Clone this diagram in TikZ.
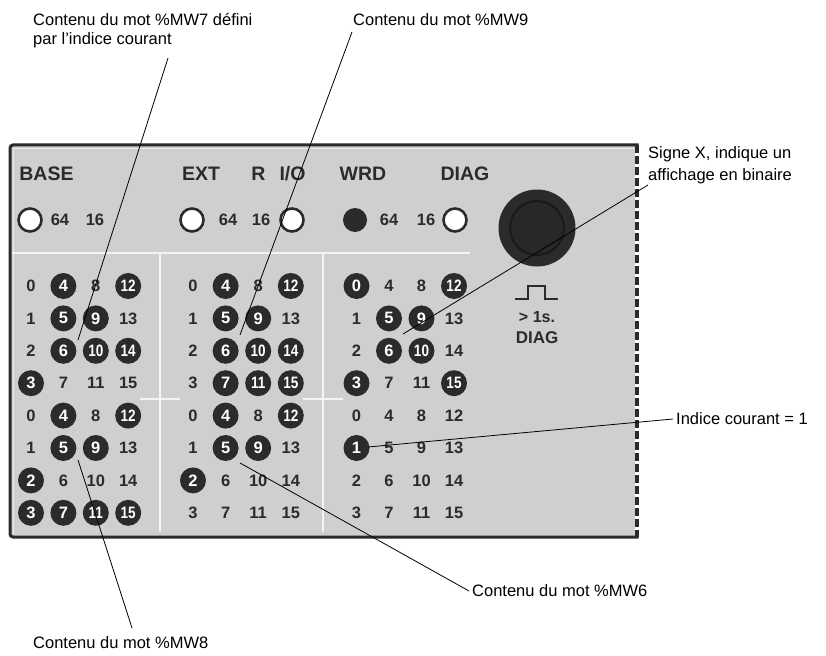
\documentclass[tikz,border=0pt]{standalone}
\usepackage{fontspec}
\setmainfont{Liberation Sans}
\usepackage{graphicx}
\definecolor{panel}{HTML}{CFCFCF}
\definecolor{ink}{HTML}{2B2B2B}
\definecolor{sepc}{HTML}{F4F4F4}
\tikzset{
  lbl/.style={font=\fontsize{16.5}{18}\selectfont, inner sep=0pt, anchor=base west},
  hdr/.style={font=\bfseries\fontsize{19.5}{19.5}\selectfont, inner sep=0pt, anchor=base, text=ink},
  dig/.style={font=\bfseries\fontsize{16.5}{16.5}\selectfont, inner sep=0pt, text=ink},
  onled/.style={circle, fill=ink, minimum size=26pt, inner sep=0pt, text=white,
    font=\bfseries\fontsize{16.5}{16.5}\selectfont},
  offled/.style={circle, draw=ink, line width=2.6pt, fill=white, minimum size=23pt, inner sep=0pt},
  leader/.style={draw=black, line width=0.8pt},
  sepline/.style={draw=sepc, line width=2.4pt}
}
\newcommand{\markon}[2]{\foreach \p in {#2}{\expandafter\gdef\csname on-#1-\p\endcsname{}}}
\markon{B}{0-1,0-3,1-1,1-2,2-1,2-2,2-3,3-0,4-1,4-3,5-1,5-2,6-0,7-0,7-1,7-2,7-3}
\markon{E}{0-1,0-3,1-1,1-2,2-1,2-2,2-3,3-1,3-2,3-3,4-1,4-3,5-1,5-2,6-0}
\markon{W}{0-0,0-3,1-1,1-2,2-1,2-2,3-0,3-3,5-0}
\begin{document}
\begin{tikzpicture}[x=1pt,y=-1pt]
\useasboundingbox (0,0) rectangle (826,655);
% panel
\fill[panel] (10,145) rectangle (637,537);
\draw[sepc!70!panel, line width=1.2pt] (13.5,534) -- (13.5,148.5) -- (634,148.5);
\draw[ink, line width=3pt, rounded corners=3pt, line cap=rect] (637,145) -- (10,145) -- (10,537) -- (637,537);
\draw[white, line width=3.5pt] (637,145) -- (637,537);
\draw[ink, line width=3.5pt, dash pattern=on 8pt off 3pt] (637,145) -- (637,537);
% separators
\draw[sepline] (12,253) -- (470,253);
\draw[sepline] (160,253) -- (160,532);
\draw[sepline] (323,253) -- (323,532);
\draw[sepline] (140,399) -- (180,399);
\draw[sepline] (303,399) -- (343,399);
% headers
\node[hdr] (hbase) at (46.5,180) {BASE};
\node[hdr] (hext) at (201,180) {EXT};
\node[hdr] (hr) at (258.5,180) {R};
\node[hdr] (hio) at (292.5,180) {I/O};
\node[hdr] (hwrd) at (363,180) {WRD};
\node[hdr] (hdiag) at (465,180) {DIAG};
% header LEDs
\node[offled] (bl1) at (30,220) {};
\node[dig] (b64) at (60,220) {64};
\node[dig] (b16) at (95,220) {16};
\node[offled] (el1) at (192,220) {};
\node[dig] (e64) at (228,220) {64};
\node[dig] (e16) at (261,220) {16};
\node[offled] (el2) at (292,220) {};
\node[circle, fill=ink, minimum size=24pt, inner sep=0pt] (wl1) at (355,220) {};
\node[dig] (w64) at (389,220) {64};
\node[dig] (w16) at (426,220) {16};
\node[offled] (wl2) at (455,220) {};
% button
\node[circle, fill=ink, minimum size=77pt, inner sep=0pt] (btn) at (537,228) {};
\node[circle, draw=black!90, line width=2pt, fill=ink!92!black, minimum size=54pt, inner sep=0pt] (btnin) at (btn) {};
\draw[ink, line width=2pt] (515,299) -- (528,299) -- (528,286) -- (545,286) -- (545,299) -- (558,299);
\node[dig, font=\bfseries\fontsize{16}{16}\selectfont] (gt) at (537,317) {> 1s.};
\node[dig, font=\bfseries\fontsize{17}{17}\selectfont] (bdiag) at (537,338) {DIAG};
% grids
\foreach \blk/\xo/\dx in {B/31/32.4, E/193/32.6, W/356.5/32.5}{
  \foreach \r in {0,...,7}{
    \foreach \c in {0,...,3}{
      \pgfmathtruncatemacro\v{4*\c+mod(\r,4)}
      \ifcsname on-\blk-\r-\c\endcsname
        \node[onled] (\blk-\r-\c) at ({\xo+\dx*\c},{286+32.4*\r})
          {\ifnum\v>9 \scalebox{0.82}[1]{\v}\else\v\fi};
      \else
        \node[dig] (\blk-\r-\c) at ({\xo+\dx*\c},{286+32.4*\r}) {\v};
      \fi
    }
  }
}
% labels
\node[lbl] (l7a) at (33,26) {Contenu du mot \%MW7 défini};
\node[lbl] (l7b) at (33,45) {par l’indice courant};
\node[lbl] (l9) at (353,26) {Contenu du mot \%MW9};
\node[lbl] (lxa) at (648,159) {Signe X, indique un};
\node[lbl] (lxb) at (648,180) {affichage en binaire};
\node[lbl] (li) at (676,424) {Indice courant = 1};
\node[lbl] (l6) at (472,596) {Contenu du mot \%MW6};
\node[lbl] (l8) at (33,648) {Contenu du mot \%MW8};
% leader ends
\coordinate (p7a) at (168,58);  \coordinate (p7b) at (78,340);
\coordinate (p9a) at (352,32);  \coordinate (p9b) at (240,335);
\coordinate (pxa) at (648,185); \coordinate (pxb) at (403,334);
\coordinate (pia) at (673,419); \coordinate (pib) at (368,447);
\coordinate (p6a) at (469,591); \coordinate (p6b) at (240,463);
\coordinate (p8a) at (132,628); \coordinate (p8b) at (78,460);
\draw[leader] (p7a) -- (p7b);
\draw[leader] (p9a) -- (p9b);
\draw[leader] (pxa) -- (pxb);
\draw[leader] (pia) -- (pib);
\draw[leader] (p6a) -- (p6b);
\draw[leader] (p8a) -- (p8b);
\end{tikzpicture}
\end{document}
